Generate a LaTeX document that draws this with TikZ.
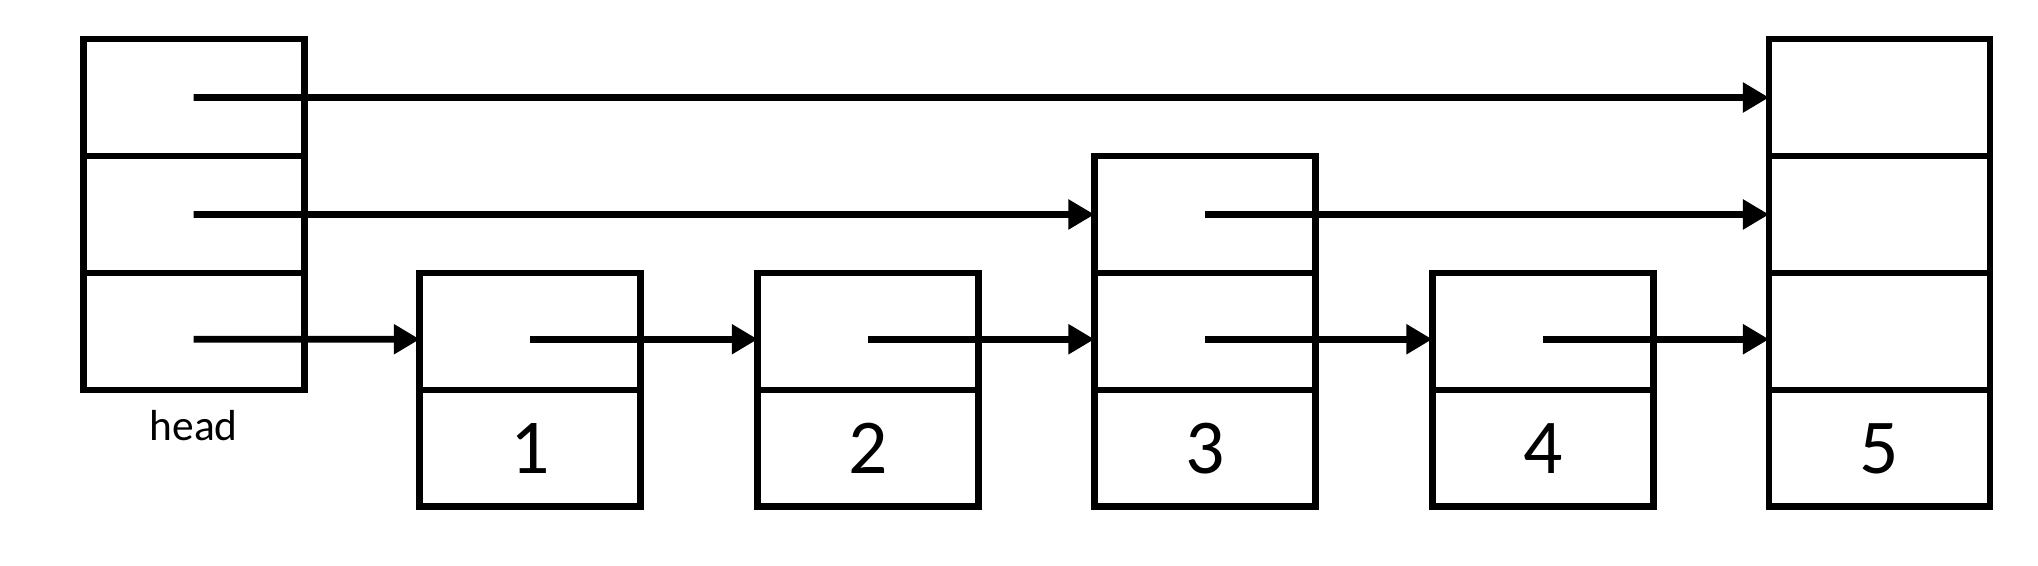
\documentclass[tikz,border=0pt]{standalone}
\usepackage{fontspec}
\setmainfont{Carlito}
\usetikzlibrary{arrows.meta,positioning}
\tikzset{
  cell/.style = {draw, rectangle, minimum width=1.7cm, minimum height=0.9cm,
  inner sep=0pt, outer sep=0pt, line width=1.5pt},
  val/.style = {cell, font=\fontsize{17}{20}\selectfont},
  ptr/.style = {line width=1.5pt, -{Triangle[length=2mm,width=2.2mm]}},
  low/.style = {transform canvas={yshift=-0.6mm}}
}

\begin{document}
\begin{tikzpicture}
    \useasboundingbox (0,0) rectangle (15.68,4.35);
    % head
    \node [cell] (ha) at (1.49,1.80) {};
    \node [cell, above=0pt of ha] (hb) {};
    \node [cell, above=0pt of hb] (hc) {};
    \node [anchor=base, font=\fontsize{9.5}{11}\selectfont] (hlabel) at ([yshift=-0.39cm]ha.south) {head};
    % nodes
    \node [val] (v1) at (4.08,0.90) {1};
    \node [cell, above=0pt of v1] (a1) {};
    \node [val] (v2) at (6.68,0.90) {2};
    \node [cell, above=0pt of v2] (a2) {};
    \node [val] (v3) at (9.27,0.90) {3};
    \node [cell, above=0pt of v3] (a3) {};
    \node [cell, above=0pt of a3] (b3) {};
    \node [val] (v4) at (11.87,0.90) {4};
    \node [cell, above=0pt of v4] (a4) {};
    \node [val] (v5) at (14.46,0.90) {5};
    \node [cell, above=0pt of v5] (a5) {};
    \node [cell, above=0pt of a5] (b5) {};
    \node [cell, above=0pt of b5] (c5) {};
    % pointers
    \draw [ptr, low] (ha.center) -- (a1.west);
    \draw [ptr, low] (a1.center) -- (a2.west);
    \draw [ptr, low] (a2.center) -- (a3.west);
    \draw [ptr, low] (a3.center) -- (a4.west);
    \draw [ptr, low] (a4.center) -- (a5.west);
    \draw [ptr] (hb.center) -- (b3.west);
    \draw [ptr] (b3.center) -- (b5.west);
    \draw [ptr] (hc.center) -- (c5.west);
\end{tikzpicture}
\end{document}
